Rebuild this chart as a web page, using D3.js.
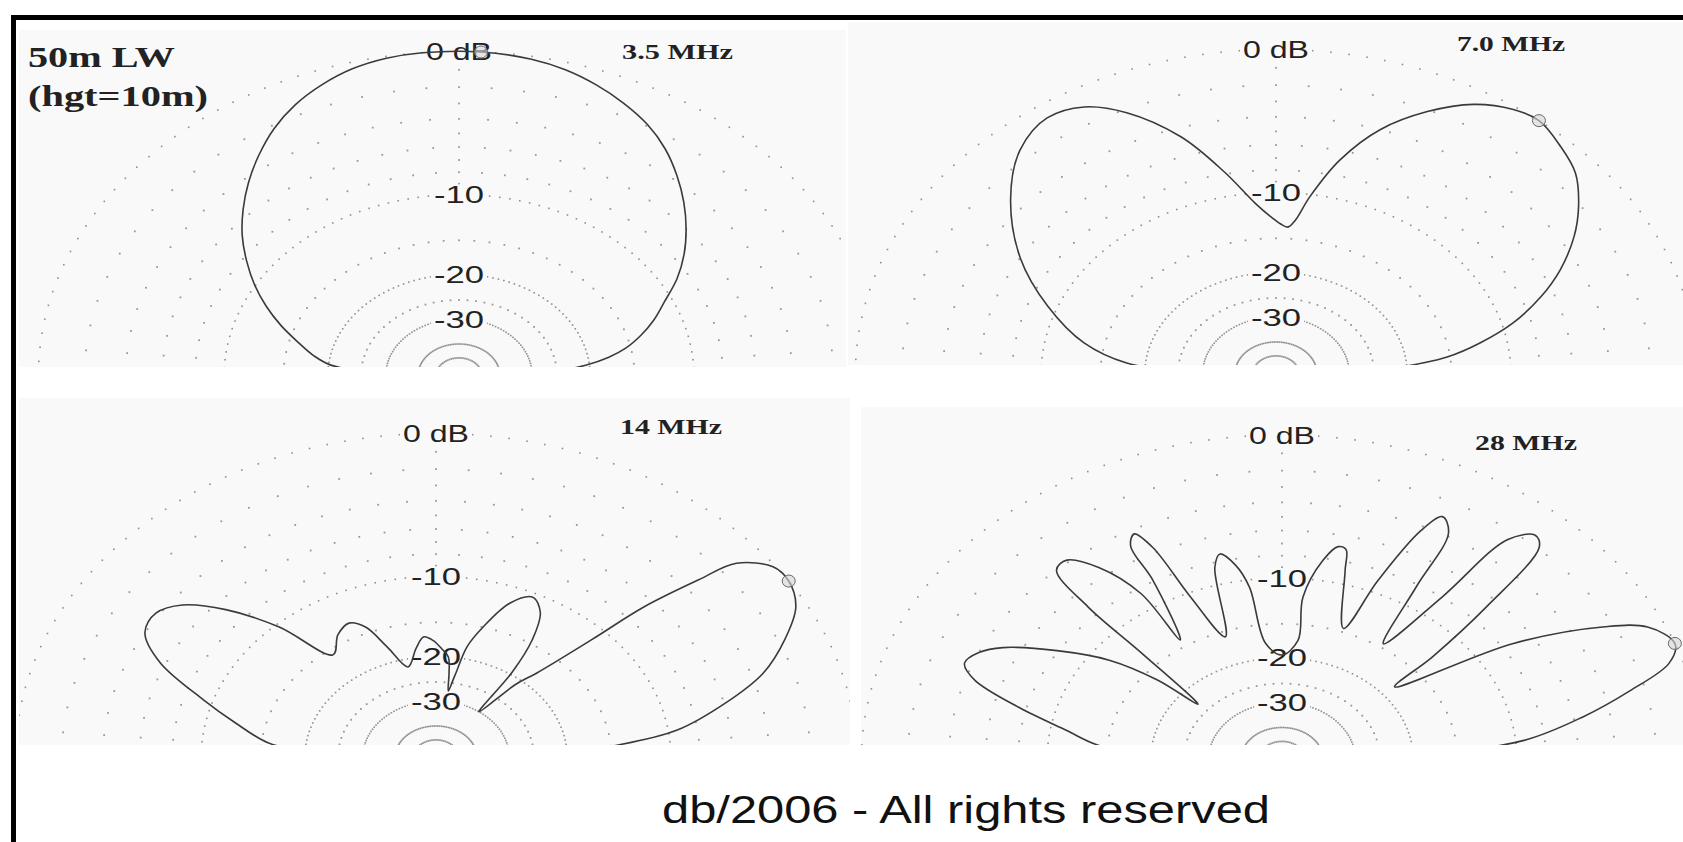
<!DOCTYPE html>
<html>
<head>
<meta charset="utf-8">
<script src="https://cdn.jsdelivr.net/npm/d3@7"></script>
<style>
  body { margin: 0; background: #fff; }
  svg { display: block; }
</style>
</head>
<body>
<div id="chart"></div>
<script>
// elevation angle (deg, 0 = right horizon, 180 = left horizon) and gain (dB)
const ang35 = [0, 3, 6, 9, 12, 16, 20, 25, 30, 35, 40, 45, 50, 55, 60, 65, 70, 75, 80, 87,
  95, 100, 105, 110, 115, 120, 125, 130, 135, 140, 145, 150, 155, 160, 165, 170, 174, 177, 180];
const db35 = [-45, -26, -20.5, -17.5, -15.5, -13.7, -12.2, -10.6, -8.8, -7.3, -6.0, -4.8, -3.7, -2.7, -1.9, -1.3, -0.8, -0.4, -0.15, 0,
  0, -0.1, -0.35, -0.8, -1.4, -2.2, -3.2, -4.3, -5.5, -6.8, -8.3, -9.9, -11.7, -13.7, -15.9, -18.0, -20.3, -26, -45];

const ang70 = [0, 2.5, 5.3, 7.1, 11, 15.5, 20.6, 25.3, 30.8, 35.6, 41, 46, 51.3, 55.3, 60.5, 66, 71.8, 77, 81.6, 84.5, 86.4, 88.5,
  91, 95.3, 101.2, 107.2, 113.8, 119, 124.6, 131.4, 139.5, 149.6, 159, 168.3, 174.8, 178, 180];
const db70 = [-40, -24, -18, -15.3, -12.1, -9.2, -6.8, -5.0, -3.3, -2.1, -1.0, -0.45, 0, -0.15, -0.8, -2.1, -4.0, -6.7, -10.2, -12.8, -13.6, -13.3,
  -12.6, -11.0, -7.8, -4.6, -2.2, -1.05, -0.73, -1.43, -3.2, -6.0, -9.3, -13.1, -17.7, -25, -40];

const ang14 = [180, 176.5, 173.6, 167.4, 162.2, 156, 150.9, 146.2, 142, 137.6, 132.8, 127.8, 121.6, 116.5, 112.7, 108.8, 103.4,
  98, 94.4, 91, 87.5, 84.6, 83.2, 81.9, 80.5, 79.7, 77.8, 74.5, 69.7, 65.2, 61, 57.8, 55.5, 54,
  50, 47.4, 44.5, 43.2, 41.3, 40, 36.3, 33, 28.5, 23.7, 18.5, 13.75, 8.4, 5.1, 2, 0];
const db14 = [-40, -20, -15.7, -12.3, -9.35, -5.7, -4.0, -3.8, -4.6, -6.7, -10.3, -15.7, -13.9, -13.2, -14.2, -17.5, -21.4,
  -18.5, -16.9, -17.5, -18.8, -20, -23, -27, -24.5, -22.8, -18, -15, -11.6, -10.4, -11.5, -14.5, -19.5, -30,
  -21, -17.8, -11.3, -6.6, -3.2, -1.2, -0.1, 0, -0.46, -1.7, -3.4, -5.9, -9.35, -14.3, -24, -40];

const ang28 = [180, 177, 174.5, 170.2, 165.7, 161.6, 158.6, 155.5, 152.6, 148, 143.4, 140.5, 139.8,
  135.6, 134.5, 132.6, 129.8, 126.4, 123.3, 123.4,
  119.1, 118.7, 116.8, 115.2, 113.5, 109.7,
  105.1, 103.1, 100.5, 98.3, 96.2, 90,
  84.1, 84.3, 81, 78.5, 76.8, 75.5, 70,
  67.5, 64.9, 63, 60.4, 59, 55.8,
  52.7, 51.6, 49, 46.9, 44, 41.4, 39.7,
  33, 28, 25.1, 20.9, 17.75, 14.3, 10.25, 5.7, 2.5, 0];
const db28 = [-40, -20, -14.2, -11.2, -7.5, -4.5, -3.6, -4.0, -5.0, -7.9, -11.5, -16.5, -23,
  -13.1, -7.2, -4.0, -3.85, -5.3, -8.45, -14.1,
  -7.9, -4.95, -4.3, -5.6, -10.4, -15.7,
  -8.4, -7.4, -8.5, -10.7, -17.6, -19.5,
  -17.2, -11.8, -8.2, -6.9, -7.0, -8.8, -14.55,
  -8.85, -4.3, -3.0, -3.8, -8.2, -14.5,
  -7.95, -2.5, -1.5, -1.9, -6.75, -12.7, -18.1,
  -7.3, -2.4, -0.7, 0, -0.6, -2.7, -5.5, -9.4, -18, -40];

// angle of the maximum-gain marker
const peakAng = [87, 51.3, 33, 20.9];
const bandNames = ["3.5 MHz", "7.0 MHz", "14 MHz", "28 MHz"];

// grid: rings drawn as dots, labelled rings every 2.5 deg, the others every 5 deg
const ringMajor = [0, -10, -20, -30, -40];
const ringMinor = [-2, -4, -6, -8, -15, -25, -50];
const axisTicks = [-1, -3, -5, -7, -9];
const ringLabels = ["0 dB", "-10", "-20", "-30"];

const W = 1683, H = 842;
const R = 324, SX = 1.298;
const BG = "#f9f9f9";

// ARRL log scale: radius = 0.89^(-dB/2), which is a power law of the field strength
const rScale = d3.scalePow()
  .exponent((-Math.log(0.89) / 2) / (Math.log(10) / 20))
  .domain([0, 1])
  .range([0, R]);
const rad = (db) => rScale(Math.pow(10, db / 20));
const toRad = (a) => ((90 - a) * Math.PI) / 180;

const panels = [
  { box: [19, 30, 827, 337], cx: 459, cy: 375.5, ang: ang35, db: db35, t: [622, 59, 111] },
  { box: [848, 22, 835, 343], cx: 1276, cy: 373.5, ang: ang70, db: db70, t: [1457, 51, 108] },
  { box: [19, 398, 831, 347], cx: 436, cy: 757.5, ang: ang14, db: db14, t: [620, 434, 102] },
  { box: [861, 407, 822, 338], cx: 1282, cy: 759, ang: ang28, db: db28, t: [1475, 450, 102] }
];

const majorDots = d3.cross(ringMajor, d3.range(0, 180.1, 2.5));
const minorDots = d3.cross(ringMinor, d3.range(0, 180.1, 5));

const svg = d3.select("#chart").append("svg").attr("width", W).attr("height", H);
svg.append("rect").attr("width", W).attr("height", H).attr("fill", "#fff");

const defs = svg.append("defs");

panels.forEach((p, k) => {
  const [bx, by, bw, bh] = p.box;
  defs.append("clipPath").attr("id", "clip" + k)
    .append("rect").attr("x", bx).attr("y", by).attr("width", bw).attr("height", bh);

  const outer = svg.append("g").attr("clip-path", `url(#clip${k})`);
  outer.append("rect").attr("x", bx).attr("y", by).attr("width", bw).attr("height", bh).attr("fill", BG);

  const px = (a, db) => p.cx + d3.pointRadial(toRad(a), rad(db))[0] * SX;
  const py = (a, db) => p.cy + d3.pointRadial(toRad(a), rad(db))[1];

  outer.selectAll(".dminor")
    .data(minorDots)
    .enter()
    .append("rect")
    .attr("x", (d) => px(d[1], d[0]) - 0.9)
    .attr("y", (d) => py(d[1], d[0]) - 0.9)
    .attr("width", 1.8)
    .attr("height", 1.8)
    .attr("fill", "#999");

  outer.selectAll(".dmajor")
    .data(majorDots)
    .enter()
    .append("rect")
    .attr("x", (d) => px(d[1], d[0]) - 0.8)
    .attr("y", (d) => py(d[1], d[0]) - 0.8)
    .attr("width", 1.6)
    .attr("height", 1.6)
    .attr("fill", "#8f8f8f");

  outer.selectAll(".dtick")
    .data(axisTicks)
    .enter()
    .append("rect")
    .attr("x", (d) => px(90, d) - 0.9)
    .attr("y", (d) => py(90, d) - 0.9)
    .attr("width", 1.8)
    .attr("height", 1.8)
    .attr("fill", "#999");

  // ring labels with a patch of background behind them
  const lab = outer.selectAll(".rlab")
    .data(ringLabels)
    .enter()
    .append("g")
    .attr("transform", (d, i) => `translate(${p.cx},${p.cy - rad(ringMajor[i])})`);
  lab.append("rect")
    .attr("x", (d, i) => (i === 0 ? -36 : -28))
    .attr("y", -10)
    .attr("width", (d, i) => (i === 0 ? 72 : 56))
    .attr("height", 20)
    .attr("fill", BG);
  lab.append("text")
    .attr("x", (d, i) => (i === 0 ? -33 : -25))
    .attr("y", 8.5)
    .attr("textLength", (d, i) => (i === 0 ? 66 : 50))
    .attr("lengthAdjust", "spacingAndGlyphs")
    .style("font-family", "'Liberation Sans', Arial, sans-serif")
    .style("font-size", "24px")
    .attr("fill", "#222")
    .text((d) => d);

  // pattern
  const line = d3.lineRadial()
    .angle((i) => toRad(p.ang[i]))
    .radius((i) => rad(p.db[i]))
    .curve(d3.curveCatmullRom.alpha(0.5));

  outer.append("g")
    .attr("transform", `translate(${p.cx},${p.cy}) scale(${SX},1)`)
    .append("path")
    .attr("d", line(d3.range(p.ang.length)))
    .attr("fill", "none")
    .attr("stroke", "#3a3a3a")
    .attr("stroke-width", 1.6)
    .attr("stroke-linejoin", "round")
    .attr("vector-effect", "non-scaling-stroke");

  // max gain marker
  outer.append("ellipse")
    .attr("cx", px(peakAng[k], 0))
    .attr("cy", py(peakAng[k], 0))
    .attr("rx", 6.5)
    .attr("ry", 6)
    .attr("fill", "#d6d6d6")
    .attr("fill-opacity", 0.6)
    .attr("stroke", "#666")
    .attr("stroke-width", 1);

  svg.append("text")
    .attr("x", p.t[0])
    .attr("y", p.t[1])
    .attr("textLength", p.t[2])
    .attr("lengthAdjust", "spacingAndGlyphs")
    .style("font-family", "'Liberation Serif', 'Times New Roman', serif")
    .style("font-weight", "bold")
    .style("font-size", "21px")
    .attr("fill", "#222")
    .text(bandNames[k]);
});

// antenna caption
const caption = ["50m LW", "(hgt=10m)"];
svg.selectAll(".cap")
  .data(caption)
  .enter()
  .append("text")
  .attr("x", 28)
  .attr("y", (d, i) => 67 + i * 39)
  .attr("textLength", (d, i) => (i === 0 ? 147 : 180))
  .attr("lengthAdjust", "spacingAndGlyphs")
  .style("font-family", "'Liberation Serif', 'Times New Roman', serif")
  .style("font-weight", "bold")
  .style("font-size", "29px")
  .attr("fill", "#222")
  .text((d) => d);

svg.append("text")
  .attr("x", 662)
  .attr("y", 823)
  .attr("textLength", 608)
  .attr("lengthAdjust", "spacingAndGlyphs")
  .style("font-family", "'Liberation Sans', Arial, sans-serif")
  .style("font-size", "38px")
  .attr("fill", "#111")
  .text("db/2006 - All rights reserved");

// frame
svg.append("rect")
  .attr("x", 13.5)
  .attr("y", 17.5)
  .attr("width", 1700)
  .attr("height", 900)
  .attr("fill", "none")
  .attr("stroke", "#000")
  .attr("stroke-width", 5);
</script>
</body>
</html>
